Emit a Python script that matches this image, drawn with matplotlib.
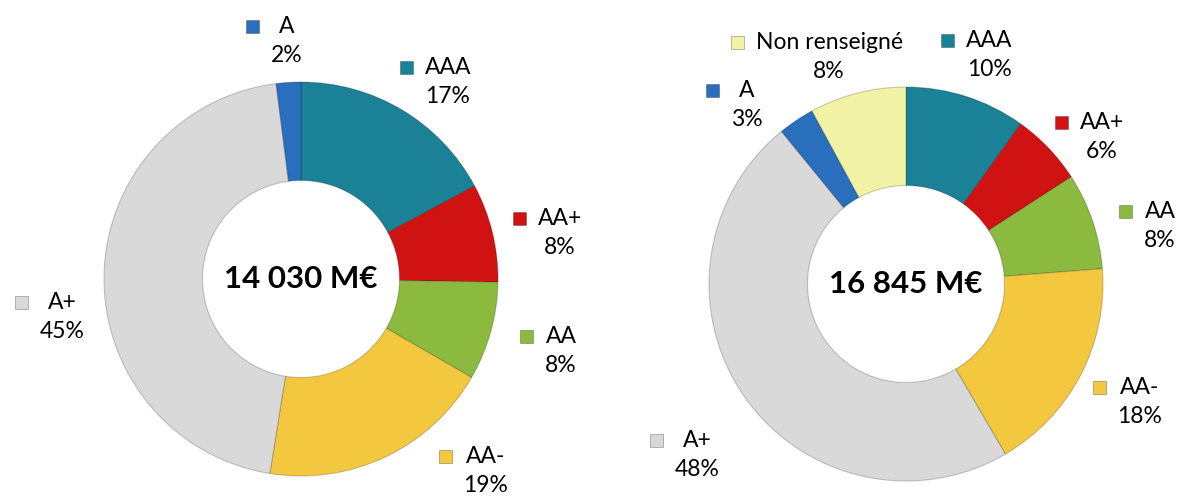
import matplotlib
matplotlib.use("Agg")
import matplotlib.pyplot as plt
from matplotlib.patches import Rectangle

plt.rcParams['font.family'] = ['Lato', 'DejaVu Sans']

# data, clockwise from 12 o'clock
left_labels = ['AAA', 'AA+', 'AA', 'AA-', 'A+', 'A']
left_values = [17, 8, 8, 19, 45, 2]
left_total = '14 030 M€'

right_labels = ['AAA', 'AA+', 'AA', 'AA-', 'A+', 'A', 'Non renseigné']
right_values = [10, 6, 8, 18, 48, 3, 8]
right_total = '16 845 M€'

colors = {
    'AAA': '#1b8196',
    'AA+': '#d01212',
    'AA': '#8cba3e',
    'AA-': '#f3c73e',
    'A+': '#d9d9d9',
    'A': '#2a6fbe',
    'Non renseigné': '#f2f2a6',
}

# layout (pixels, origin top-left)
W, H = 1185, 499
R = 197
left_center = (301, 279)
right_center = (906, 284)
left_label_pos = {'AAA': (448, 82), 'AA+': (560, 233), 'AA': (561, 351),
                  'AA-': (486, 471), 'A+': (62, 317), 'A': (287, 41)}
right_label_pos = {'AAA': (989, 55), 'AA+': (1102, 137), 'AA': (1160, 226),
                   'AA-': (1140, 402), 'A+': (697, 455), 'A': (747, 105),
                   'Non renseigné': (829, 57)}

fig = plt.figure(figsize=(W / 100, H / 100), dpi=100)
ax = fig.add_axes([0, 0, 1, 1])

texts = []
for labels, values, total, (cx, cy), lpos in [
        (left_labels, left_values, left_total, left_center, left_label_pos),
        (right_labels, right_values, right_total, right_center, right_label_pos)]:
    ax.pie(values, colors=[colors[l] for l in labels], startangle=90,
           counterclock=False, center=(cx, H - cy), radius=R,
           wedgeprops=dict(width=R * 0.5, edgecolor=(0, 0, 0, 0.2), linewidth=0.8))
    ax.text(cx, H - cy, total, ha='center', va='center', fontsize=22.5,
            fontweight='bold', color='black')
    for lab, v in zip(labels, values):
        x, y = lpos[lab]
        t = ax.text(x, H - y, f"{lab}\n{v}%", ha='center', va='center',
                    fontsize=16.5, linespacing=1.5, color='black')
        texts.append((t, lab))

ax.set_xlim(0, W)
ax.set_ylim(0, H)
ax.set_aspect('auto')
ax.axis('off')

# little colour keys to the left of each label
fig.canvas.draw()
renderer = fig.canvas.get_renderer()
s = 13
for t, lab in texts:
    bb = t.get_window_extent(renderer)
    line_h = bb.height / 2
    sx = bb.x0 - 12 - s
    sy = bb.y1 - line_h / 2 - s / 2 + 2
    ax.add_patch(Rectangle((sx, sy), s, s, facecolor=colors[lab],
                           edgecolor=(0, 0, 0, 0.3), linewidth=0.6))

fig.savefig('out.png', dpi=100)
